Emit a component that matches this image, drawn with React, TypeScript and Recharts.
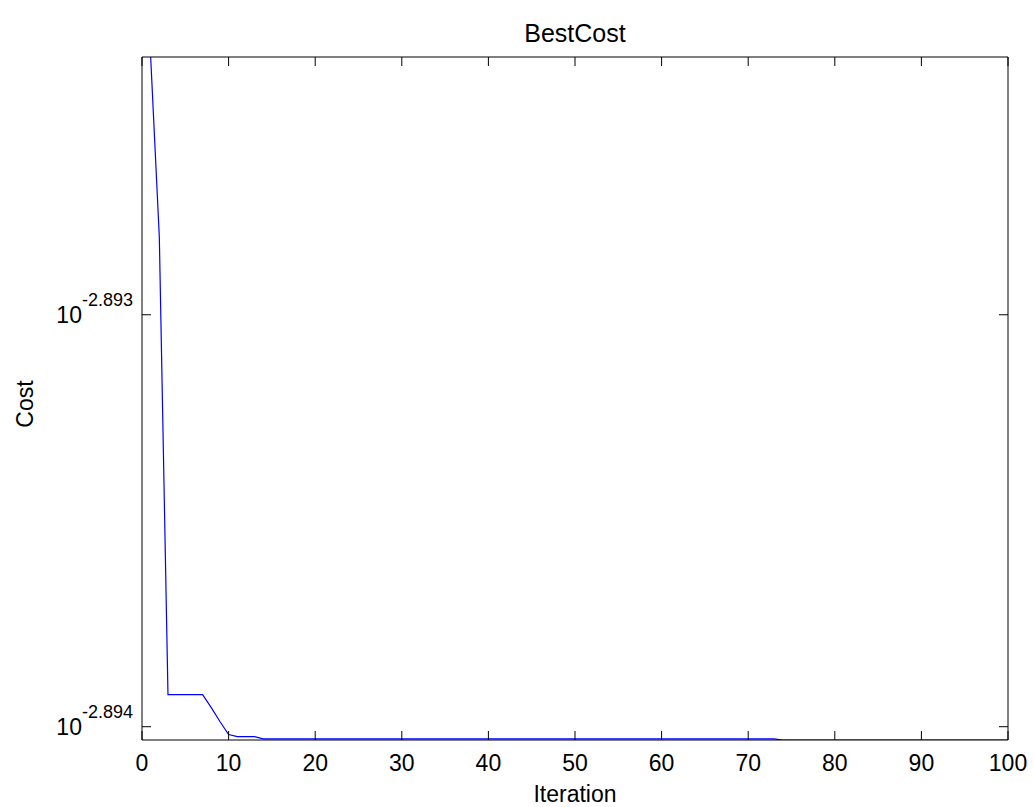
import React from 'react';
import { LineChart, Line, XAxis, YAxis, Label } from 'recharts';

const xTicks = [0, 10, 20, 30, 40, 50, 60, 70, 80, 90, 100];
const yTickExponents = [-2.894, -2.893];
const yTicks = yTickExponents.map((e) => Math.pow(10, e));
const yDomain = [1.276344e-3, 1.281226e-3];

const iterations = [
  1, 2, 3, 4, 5, 6, 7, 8, 9, 10,
  11, 12, 13, 14, 15, 16, 17, 18, 19, 20,
  21, 22, 23, 24, 25, 26, 27, 28, 29, 30,
  31, 32, 33, 34, 35, 36, 37, 38, 39, 40,
  41, 42, 43, 44, 45, 46, 47, 48, 49, 50,
  51, 52, 53, 54, 55, 56, 57, 58, 59, 60,
  61, 62, 63, 64, 65, 66, 67, 68, 69, 70,
  71, 72, 73, 74, 75, 76, 77, 78, 79, 80,
  81, 82, 83, 84, 85, 86, 87, 88, 89, 90,
  91, 92, 93, 94, 95, 96, 97, 98, 99, 100,
];

const bestCost = [
  1.281226e-3, 1.279938e-3, 1.276668e-3, 1.276668e-3, 1.276668e-3,
  1.276668e-3, 1.276668e-3, 1.276575e-3, 1.276476e-3, 1.276383e-3,
  1.276368e-3, 1.276368e-3, 1.276368e-3, 1.276352e-3, 1.276352e-3,
  1.276352e-3, 1.276352e-3, 1.276352e-3, 1.276352e-3, 1.276352e-3,
  1.276352e-3, 1.276352e-3, 1.276352e-3, 1.276352e-3, 1.276352e-3,
  1.276352e-3, 1.276352e-3, 1.276352e-3, 1.276352e-3, 1.276352e-3,
  1.276352e-3, 1.276352e-3, 1.276352e-3, 1.276352e-3, 1.276352e-3,
  1.276352e-3, 1.276352e-3, 1.276352e-3, 1.276352e-3, 1.276352e-3,
  1.276352e-3, 1.276352e-3, 1.276352e-3, 1.276352e-3, 1.276352e-3,
  1.276352e-3, 1.276352e-3, 1.276352e-3, 1.276352e-3, 1.276352e-3,
  1.276352e-3, 1.276352e-3, 1.276352e-3, 1.276352e-3, 1.276352e-3,
  1.276352e-3, 1.276352e-3, 1.276352e-3, 1.276352e-3, 1.276352e-3,
  1.276352e-3, 1.276352e-3, 1.276352e-3, 1.276352e-3, 1.276352e-3,
  1.276352e-3, 1.276352e-3, 1.276352e-3, 1.276352e-3, 1.276352e-3,
  1.276352e-3, 1.276352e-3, 1.276352e-3, 1.276344e-3, 1.276344e-3,
  1.276344e-3, 1.276344e-3, 1.276344e-3, 1.276344e-3, 1.276344e-3,
  1.276344e-3, 1.276344e-3, 1.276344e-3, 1.276344e-3, 1.276344e-3,
  1.276344e-3, 1.276344e-3, 1.276344e-3, 1.276344e-3, 1.276344e-3,
  1.276344e-3, 1.276344e-3, 1.276344e-3, 1.276344e-3, 1.276344e-3,
  1.276344e-3, 1.276344e-3, 1.276344e-3, 1.276344e-3, 1.276344e-3,
];

const data = iterations.map((it, i) => ({ it, cost: bestCost[i] }));

const FONT = '"Liberation Sans", Arial, Helvetica, sans-serif';

const XTick = (props: any) => {
  const { x, y, payload } = props;
  return (
    <text x={x} y={y + 31} textAnchor="middle" fontFamily={FONT} fontSize={23} fill="#000">
      {payload.value}
    </text>
  );
};

const YTick = (props: any) => {
  const { x, y, payload } = props;
  const idx = yTicks.findIndex((t) => Math.abs(t - payload.value) < 1e-10);
  const exp = idx >= 0 ? yTickExponents[idx] : Math.log10(payload.value);
  return (
    <text x={x - 9} y={y + 8} textAnchor="end" fontFamily={FONT} fill="#000">
      <tspan fontSize={23}>10</tspan>
      <tspan fontSize={18} dy={-17}>{exp.toFixed(3)}</tspan>
    </text>
  );
};

const Empty = () => <g />;

export default function App() {
  return (
    <div style={{ position: 'absolute', left: 0, top: 0, width: 1034, height: 807, background: '#fff' }}>
      <LineChart width={1034} height={807} data={data} margin={{ top: 0, right: 0, bottom: 0, left: 0 }}>
        <XAxis
          xAxisId="b"
          dataKey="it"
          type="number"
          domain={[0, 100]}
          ticks={xTicks}
          orientation="bottom"
          height={67}
          tickSize={-9}
          tickMargin={9}
          tick={<XTick />}
          axisLine={{ stroke: '#000' }}
          tickLine={{ stroke: '#000' }}
          allowDataOverflow
        >
          <Label
            content={() => (
              <text x={575} y={802} textAnchor="middle" fontFamily={FONT} fontSize={23} fill="#000">
                Iteration
              </text>
            )}
          />
        </XAxis>
        <XAxis
          xAxisId="t"
          dataKey="it"
          type="number"
          domain={[0, 100]}
          ticks={xTicks}
          orientation="top"
          height={57}
          tickSize={-9}
          tickMargin={9}
          tick={<Empty />}
          axisLine={{ stroke: '#000' }}
          tickLine={{ stroke: '#000' }}
          allowDataOverflow
        >
          <Label
            content={() => (
              <text x={575} y={42} textAnchor="middle" fontFamily={FONT} fontSize={25} fill="#000">
                BestCost
              </text>
            )}
          />
        </XAxis>
        <YAxis
          yAxisId="l"
          type="number"
          scale="log"
          domain={yDomain}
          ticks={yTicks}
          orientation="left"
          width={142}
          tickSize={-9}
          tickMargin={9}
          tick={<YTick />}
          axisLine={{ stroke: '#000' }}
          tickLine={{ stroke: '#000' }}
          allowDataOverflow
        >
          <Label
            content={() => (
              <text
                x={33}
                y={404}
                textAnchor="middle"
                fontFamily={FONT}
                fontSize={23}
                fill="#000"
                transform="rotate(-90 33 404)"
              >
                Cost
              </text>
            )}
          />
        </YAxis>
        <YAxis
          yAxisId="r"
          type="number"
          scale="log"
          domain={yDomain}
          ticks={yTicks}
          orientation="right"
          width={26}
          tickSize={-9}
          tickMargin={9}
          tick={<Empty />}
          axisLine={{ stroke: '#000' }}
          tickLine={{ stroke: '#000' }}
          allowDataOverflow
        />
        <Line
          xAxisId="t"
          yAxisId="r"
          dataKey="cost"
          stroke="none"
          dot={false}
          activeDot={false}
          isAnimationActive={false}
        />
        <Line
          xAxisId="b"
          yAxisId="l"
          dataKey="cost"
          stroke="#0000ff"
          strokeWidth={1.2}
          dot={false}
          activeDot={false}
          isAnimationActive={false}
        />
      </LineChart>
    </div>
  );
}
